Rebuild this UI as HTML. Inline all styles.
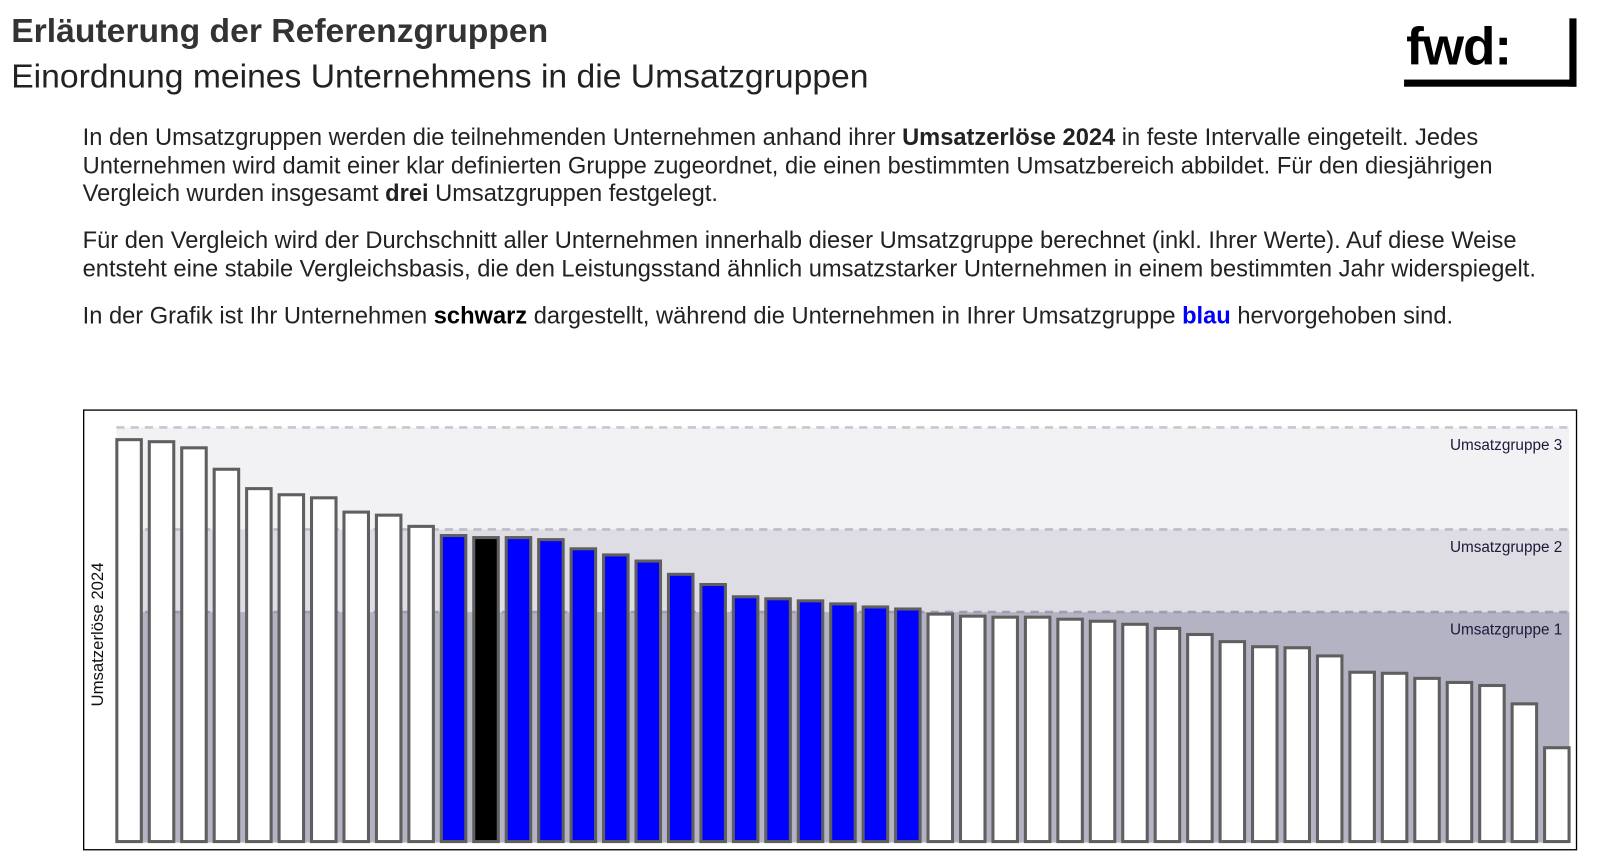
<!DOCTYPE html>
<html><head><meta charset="utf-8"><style>
html,body{margin:0;padding:0;background:#fff;width:1600px;height:861px;overflow:hidden}
#w{position:absolute;left:0;top:0;width:1568px;height:844px;transform:scale(1.0204,1.0201);transform-origin:0 0;font-family:"Liberation Sans",Arial,sans-serif;color:#222}
.t1{position:absolute;left:11px;top:11px;font-size:33px;font-weight:bold;color:#333}
.t2{position:absolute;left:11px;top:56px;font-size:33px;color:#222}
.p{position:absolute;left:81px;font-size:23.2px;line-height:27.5px;width:1440px}
.logo{position:absolute;left:1378px;top:16px;font-size:52px;font-weight:bold;color:#000;letter-spacing:-1px}
</style></head><body><div id="w">
<div class="t1">Erläuterung der Referenzgruppen</div>
<div class="t2">Einordnung meines Unternehmens in die Umsatzgruppen</div>
<div class="logo">fwd:</div>
<div style="position:absolute;left:1376px;top:78px;width:169px;height:7px;background:#000"></div>
<div style="position:absolute;left:1538px;top:18px;width:7px;height:67px;background:#000"></div>
<div class="p" style="top:121px">In den Umsatzgruppen werden die teilnehmenden Unternehmen anhand ihrer <b>Umsatzerlöse 2024</b> in feste Intervalle eingeteilt. Jedes Unternehmen wird damit einer klar definierten Gruppe zugeordnet, die einen bestimmten Umsatzbereich abbildet. Für den diesjährigen Vergleich wurden insgesamt <b>drei</b> Umsatzgruppen festgelegt.</div>
<div class="p" style="top:222px">Für den Vergleich wird der Durchschnitt aller Unternehmen innerhalb dieser Umsatzgruppe berechnet (inkl. Ihrer Werte). Auf diese Weise entsteht eine stabile Vergleichsbasis, die den Leistungsstand ähnlich umsatzstarker Unternehmen in einem bestimmten Jahr widerspiegelt.</div>
<div class="p" style="top:296px">In der Grafik ist Ihr Unternehmen <b style="color:#000">schwarz</b> dargestellt, während die Unternehmen in Ihrer Umsatzgruppe <b style="color:#0000ff">blau</b> hervorgehoben sind.</div>
<svg style="position:absolute;left:0;top:0" width="1568" height="844" viewBox="0 0 1568 844">
<rect x="82" y="402" width="1463" height="431" fill="#fff" stroke="#000" stroke-width="1.3"/>
<rect x="114" y="419" width="1424" height="100" fill="#f2f2f4"/>
<rect x="114" y="519" width="1424" height="81" fill="#dedde4"/>
<rect x="114" y="600" width="1424" height="226" fill="#b4b3c3"/>
<line x1="114" y1="419" x2="1538" y2="419" stroke="#c8c7d0" stroke-width="2.5" stroke-dasharray="8,6"/>
<line x1="114" y1="519" x2="1538" y2="519" stroke="#bdbcc8" stroke-width="2.5" stroke-dasharray="8,6"/>
<line x1="114" y1="600" x2="1538" y2="600" stroke="#9f9eb0" stroke-width="2.5" stroke-dasharray="8,6"/>
<g font-size="15" fill="#1a1a3a" text-anchor="end">
<text x="1531" y="441">Umsatzgruppe 3</text>
<text x="1531" y="541">Umsatzgruppe 2</text>
<text x="1531" y="622">Umsatzgruppe 1</text>
</g>
<text transform="translate(101,622) rotate(-90)" font-size="16.4" fill="#111" text-anchor="middle">Umsatzerlöse 2024</text>
<g id="bars" stroke="#5f5f5f" stroke-width="3"></g>
</svg>
<script>
var h=[431,433,439,460,479,485,488,502,505,516,525,527,527,529,538,544,550,563,573,585,587,589,592,595,597,602,604,605,605,607,609,612,616,622,629,634,635,643,659,660,665,669,672,690,733];
var g=document.getElementById('bars'),s='';
for(var i=0;i<h.length;i++){var x=114.5+i*31.8;var f='#fff';if(i>=10&&i<=24)f='#0000ff';if(i==11)f='#000';
s+='<rect x="'+x+'" y="'+h[i]+'" width="24" height="'+(825-h[i])+'" fill="'+f+'"/>';}
g.innerHTML=s;
</script>
</div></body></html>
